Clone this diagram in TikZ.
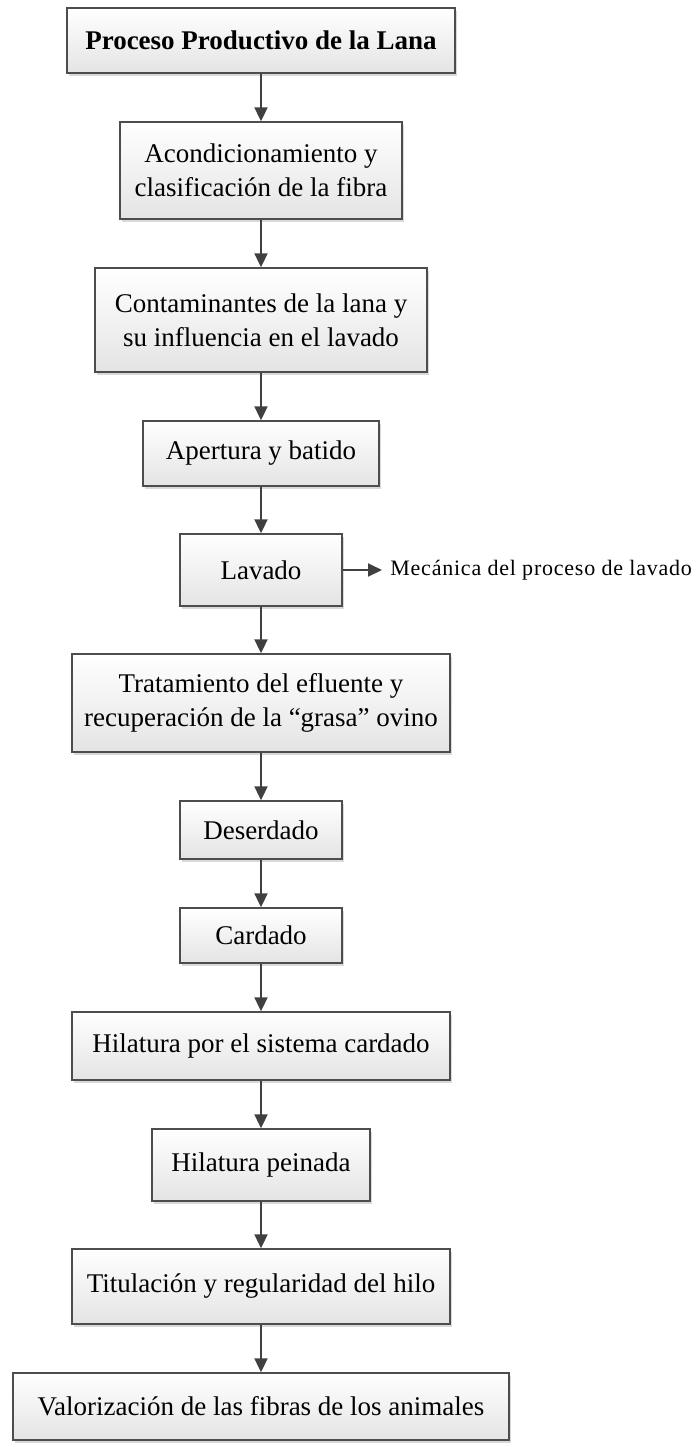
\documentclass[tikz,border=0pt]{standalone}
\usepackage{fontspec}
\setmainfont{Liberation Serif}
\usetikzlibrary{arrows.meta,shadows}
\definecolor{borde}{HTML}{4D4D4D}
\definecolor{gris}{HTML}{E4E4E4}
\def\flecha{\draw[-{Triangle[length=7pt,width=6.5pt]},line width=1pt,draw=black!75,fill=black!75]}
\tikzset{caja/.style={draw=borde,line width=0.7pt,inner sep=0pt,align=center,
    top color=white,bottom color=gris,
    drop shadow={shadow xshift=1pt,shadow yshift=-1.5pt,fill=black!25,opacity=0.6},
    font=\fontsize{13.5}{17}\selectfont}}

\begin{document}
\begin{tikzpicture}[x=0.5pt,y=-0.5pt]
                \useasboundingbox (0,0) rectangle (696,1447);
                \node[caja,minimum width=194pt,minimum height=32.5pt,font=\fontsize{13.5}{17}\selectfont\bfseries] (proceso) at (261,40.5) {Proceso Productivo de la Lana};
                \node[caja,minimum width=141pt,minimum height=48.5pt] (acond)   at (261,170.5) {Acondicionamiento y\\clasificación de la fibra};
                \node[caja,minimum width=166pt,minimum height=52pt]   (contam)  at (261,320)   {Contaminantes de la lana y\\su influencia en el lavado};
                \node[caja,minimum width=118pt,minimum height=32.5pt] (apert)   at (261,453.5) {Apertura y batido};
                \node[caja,minimum width=81pt,minimum height=36pt]    (lavado)  at (261,570)   {Lavado};
                \node[caja,minimum width=189pt,minimum height=49pt]   (tratam)  at (261,703)   {Tratamiento del efluente y\\recuperación de la “grasa” ovino};
                \node[caja,minimum width=81pt,minimum height=29pt]    (deserd)  at (261,830)   {Deserdado};
                \node[caja,minimum width=81pt,minimum height=27.5pt]  (cardado) at (261,935.5) {Cardado};
                \node[caja,minimum width=189pt,minimum height=34pt]   (hilcard) at (261,1046)  {Hilatura por el sistema cardado};
                \node[caja,minimum width=109pt,minimum height=36pt]   (hilpein) at (261,1165)  {Hilatura peinada};
                \node[caja,minimum width=189pt,minimum height=37.5pt] (titul)   at (261,1286.5){Titulación y regularidad del hilo};
                \node[caja,minimum width=248pt,minimum height=33.5pt] (valor)   at (261,1406.5){Valorización de las fibras de los animales};
                \node[anchor=west,inner sep=0pt,font=\fontsize{11}{13}\selectfont\addfontfeature{LetterSpace=3.5}] (mecanica) at (390,570) {Mecánica del proceso de lavado};
                \flecha (proceso) -- (acond);
                \flecha (acond)   -- (contam);
                \flecha (contam)  -- (apert);
                \flecha (apert)   -- (lavado);
                \flecha (lavado)  -- (tratam);
                \flecha (tratam)  -- (deserd);
                \flecha (deserd)  -- (cardado);
                \flecha (cardado) -- (hilcard);
                \flecha (hilcard) -- (hilpein);
                \flecha (hilpein) -- (titul);
                \flecha (titul)   -- (valor);
                \flecha[shorten >=4pt] (lavado) -- (mecanica);
            \end{tikzpicture}
\end{document}
